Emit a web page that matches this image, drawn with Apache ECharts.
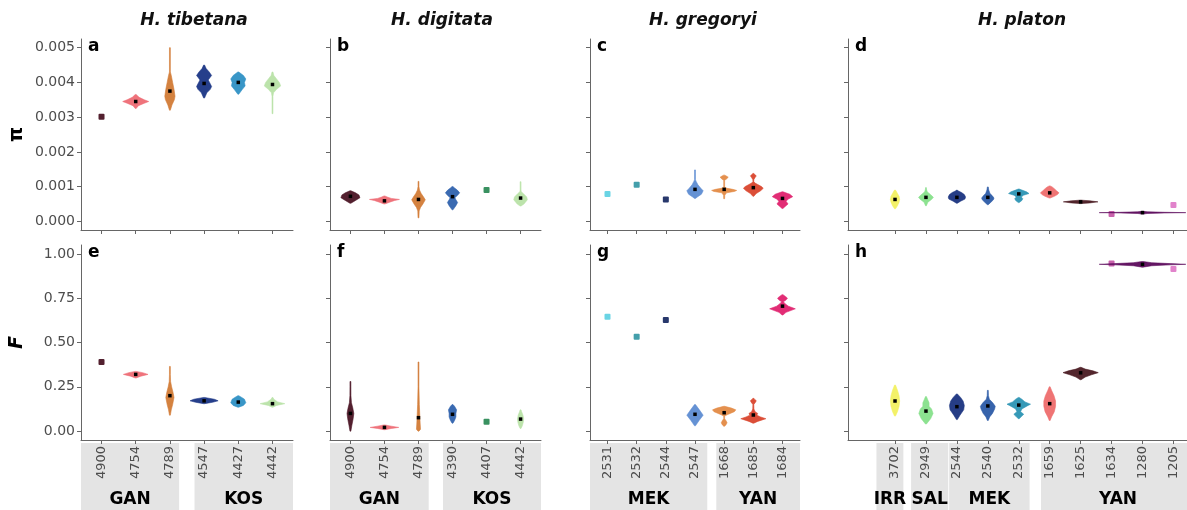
<!DOCTYPE html>
<html><head><meta charset="utf-8">
<script src="https://cdn.jsdelivr.net/npm/echarts@6/dist/echarts.min.js"></script>
<style>html,body{margin:0;padding:0;background:#fff}#c{width:1187px;height:510px}</style>
</head><body><div id="c"></div><script>
// ---------------- data ----------------
const speciesTitles = ['H. tibetana', 'H. digitata', 'H. gregoryi', 'H. platon'];
const lettersTop = ['a', 'b', 'c', 'd'];
const lettersBottom = ['e', 'f', 'g', 'h'];
const piTicks = [0, 0.001, 0.002, 0.003, 0.004, 0.005];
const fTicks = [0, 0.25, 0.5, 0.75, 1.0];

const catsTib = ['4900', '4754', '4789', '4547', '4427', '4442'];
const catsDig = ['4900', '4754', '4789', '4390', '4407', '4442'];
const catsGre = ['2531', '2532', '2544', '2547', '1668', '1685', '1684'];
const catsPla = ['3702', '2949', '2544', '2540', '2532', '1659', '1625', '1634', '1280', '1205'];

// group strips: [label, from, to] in category-index units
const groupsTib = [['GAN', -0.6, 2.27], ['KOS', 2.72, 5.6]];
const groupsDig = [['GAN', -0.6, 2.3], ['KOS', 2.72, 5.6]];
const groupsGre = [['MEK', -0.6, 3.42], ['YAN', 3.73, 6.6]];
const groupsPla = [['IRR', -0.6, 0.27], ['SAL', 0.52, 1.72], ['MEK', 1.75, 4.35], ['YAN', 4.72, 9.7]];

const colorsTib = ['#4a1424', '#ee6b74', '#d27b36', '#1a3585', '#2e90c4', '#b8e2a6'];
const colorsDig = ['#4a1424', '#ee6b74', '#d27b36', '#2f62ad', '#2e8b57', '#b8e2a6'];
const colorsGre = ['#62d2e3', '#3a9aa6', '#1c2d64', '#5d8cd2', '#e38a45', '#d9452d', '#e0226e'];
const colorsPla = ['#f2f060', '#86e08a', '#1a3380', '#2c5ba6', '#2b93b3', '#ee6d6d', '#4a1a22', '#c65aa8', '#5c0b5c', '#df7cc8'];

// nucleotide diversity (pi): medians and violin outlines [value, relative half-width]
const piTibMedian = [0.00301, 0.00345, 0.00375, 0.00397, 0.00400, 0.00394];
const piTibShape = [
  [],
  [[0.00325,0],[0.00333,0.08],[0.0034,0.25],[0.00345,0.38],[0.0035,0.25],[0.00357,0.1],[0.00365,0]],
  [[0.0032,0],[0.00335,0.06],[0.0035,0.13],[0.0036,0.15],[0.0038,0.12],[0.004,0.08],[0.0042,0.04],[0.0043,0.01],[0.0045,0.004],[0.005,0]],
  [[0.00355,0],[0.0037,0.08],[0.0038,0.18],[0.00388,0.22],[0.004,0.16],[0.00407,0.12],[0.00415,0.18],[0.0042,0.22],[0.0043,0.15],[0.0044,0.06],[0.0045,0]],
  [[0.00366,0],[0.0038,0.12],[0.0039,0.2],[0.004,0.18],[0.0041,0.22],[0.0042,0.15],[0.0043,0]],
  [[0.0031,0],[0.0036,0.01],[0.0037,0.03],[0.0038,0.12],[0.0039,0.24],[0.004,0.2],[0.0041,0.12],[0.0042,0.04],[0.0043,0]]
];
const piDigMedian = [0.00072, 0.00059, 0.00063, 0.00071, 0.0009, 0.00067];
const piDigShape = [
  [[0.00052,0],[0.0006,0.15],[0.00068,0.28],[0.00076,0.25],[0.00082,0.15],[0.00088,0]],
  [[0.0005,0],[0.00055,0.15],[0.0006,0.3],[0.00063,0.44],[0.00066,0.2],[0.0007,0.08],[0.00073,0]],
  [[0.0001,0],[0.0003,0.02],[0.0004,0.06],[0.0005,0.13],[0.00062,0.2],[0.0007,0.15],[0.0008,0.08],[0.0009,0.03],[0.001,0.01],[0.00115,0]],
  [[0.00033,0],[0.00045,0.1],[0.00054,0.15],[0.00062,0.1],[0.00068,0.07],[0.00075,0.15],[0.00082,0.21],[0.0009,0.14],[0.00097,0.05],[0.001,0]],
  [],
  [[0.00044,0],[0.0005,0.1],[0.00062,0.2],[0.0007,0.18],[0.0008,0.08],[0.00085,0.02],[0.0009,0.008],[0.00114,0]]
];
const piGreMedian = [0.00079, 0.00105, 0.00063, 0.00092, 0.00092, 0.00097, 0.00066];
const piGreShape = [
  [], [], [],
  [[0.00066,0],[0.0007,0.08],[0.00078,0.22],[0.00088,0.28],[0.00095,0.2],[0.00105,0.1],[0.00115,0.04],[0.0012,0.01],[0.00148,0]],
  [[0.00065,0],[0.00075,0.02],[0.00082,0.08],[0.00086,0.35],[0.00089,0.43],[0.00092,0.3],[0.00095,0.1],[0.00098,0],[0.00118,0],[0.00122,0.08],[0.00127,0.14],[0.00131,0.06],[0.00133,0]],
  [[0.00072,0],[0.0008,0.1],[0.00088,0.25],[0.00095,0.34],[0.001,0.28],[0.00106,0.15],[0.0011,0.06],[0.00114,0.01],[0.0012,0.005],[0.00126,0.06],[0.00131,0.1],[0.00136,0.03],[0.00138,0]],
  [[0.00037,0],[0.00045,0.12],[0.0005,0.19],[0.00058,0.12],[0.00064,0.2],[0.00071,0.35],[0.00078,0.25],[0.00085,0]]
];
const piPlaMedian = [0.00063, 0.00069, 0.00069, 0.00069, 0.00079, 0.00082, 0.00056, 0.00021, 0.00025, 0.00047];
const piPlaShape = [
  [[0.00036,0],[0.00045,0.08],[0.00055,0.13],[0.00063,0.15],[0.00072,0.13],[0.0008,0.08],[0.00088,0.03],[0.0009,0]],
  [[0.00045,0],[0.00055,0.06],[0.00063,0.18],[0.00069,0.24],[0.00076,0.16],[0.00085,0.04],[0.00093,0.01],[0.00097,0]],
  [[0.00052,0],[0.00058,0.12],[0.00064,0.26],[0.0007,0.28],[0.00077,0.24],[0.00083,0.15],[0.00088,0.03],[0.0009,0]],
  [[0.00048,0],[0.00055,0.1],[0.00062,0.18],[0.00067,0.2],[0.00074,0.14],[0.0008,0.07],[0.0009,0.03],[0.00099,0]],
  [[0.00054,0],[0.0006,0.1],[0.00065,0.13],[0.0007,0.08],[0.00075,0.15],[0.0008,0.33],[0.00085,0.25],[0.0009,0.1],[0.00093,0]],
  [[0.00067,0],[0.00072,0.15],[0.00077,0.25],[0.00082,0.3],[0.00088,0.22],[0.00094,0.15],[0.00099,0.08],[0.00102,0]],
  [[0.00051,0],[0.00053,0.3],[0.00056,0.56],[0.00059,0.3],[0.00061,0]],
  [],
  [[0.00021,0],[0.000225,0.15],[0.00024,0.7],[0.00025,1.4],[0.00026,0.7],[0.000275,0.15],[0.00029,0]],
  []
];

// inbreeding coefficient (F)
const fTibMedian = [0.39, 0.32, 0.2, 0.171, 0.164, 0.155];
const fTibShape = [
  [],
  [[0.3,0],[0.31,0.15],[0.32,0.36],[0.33,0.2],[0.337,0]],
  [[0.09,0],[0.12,0.04],[0.15,0.08],[0.19,0.12],[0.22,0.09],[0.25,0.05],[0.28,0.02],[0.32,0.008],[0.365,0]],
  [[0.155,0],[0.163,0.25],[0.171,0.41],[0.18,0.3],[0.19,0]],
  [[0.135,0],[0.145,0.15],[0.16,0.22],[0.17,0.2],[0.18,0.18],[0.19,0.1],[0.2,0]],
  [[0.135,0],[0.145,0.12],[0.155,0.36],[0.165,0.15],[0.18,0.04],[0.19,0]]
];
const fDigMedian = [0.1, 0.021, 0.076, 0.095, 0.053, 0.068];
const fDigShape = [
  [[0.0,0],[0.03,0.04],[0.07,0.08],[0.1,0.1],[0.13,0.07],[0.16,0.03],[0.2,0.015],[0.25,0.008],[0.28,0]],
  [[0.008,0],[0.015,0.2],[0.021,0.42],[0.028,0.2],[0.035,0]],
  [[0.0,0],[0.01,0.06],[0.04,0.05],[0.08,0.04],[0.15,0.025],[0.25,0.012],[0.35,0.005],[0.39,0]],
  [[0.045,0],[0.06,0.06],[0.08,0.1],[0.1,0.1],[0.12,0.12],[0.14,0.06],[0.15,0]],
  [],
  [[0.015,0],[0.03,0.05],[0.05,0.08],[0.07,0.09],[0.09,0.07],[0.11,0.03],[0.12,0]]
];
const fGreMedian = [0.645, 0.532, 0.627, 0.095, 0.104, 0.091, 0.705];
const fGreShape = [
  [], [], [],
  [[0.03,0],[0.06,0.14],[0.09,0.28],[0.12,0.15],[0.15,0]],
  [[0.028,0],[0.035,0.06],[0.047,0.1],[0.06,0.06],[0.07,0],[0.085,0],[0.092,0.1],[0.11,0.35],[0.12,0.4],[0.13,0.25],[0.14,0]],
  [[0.045,0],[0.055,0.15],[0.07,0.43],[0.08,0.25],[0.09,0.12],[0.1,0.15],[0.11,0.06],[0.125,0.02],[0.15,0.01],[0.165,0.08],[0.172,0.1],[0.18,0.04],[0.185,0]],
  [[0.655,0],[0.67,0.12],[0.69,0.44],[0.705,0.2],[0.72,0.08],[0.73,0.03],[0.74,0.12],[0.75,0.17],[0.76,0.1],[0.77,0]]
];
const fPlaMedian = [0.17, 0.113, 0.138, 0.142, 0.147, 0.155, 0.329, 0.946, 0.941, 0.914];
const fPlaShape = [
  [[0.085,0],[0.11,0.08],[0.14,0.13],[0.17,0.15],[0.2,0.13],[0.23,0.08],[0.26,0]],
  [[0.04,0],[0.07,0.15],[0.1,0.23],[0.125,0.18],[0.14,0.1],[0.16,0.1],[0.18,0.05],[0.195,0]],
  [[0.065,0],[0.09,0.1],[0.12,0.22],[0.145,0.24],[0.17,0.2],[0.19,0.12],[0.21,0]],
  [[0.06,0],[0.08,0.06],[0.1,0.15],[0.125,0.22],[0.14,0.24],[0.16,0.16],[0.18,0.05],[0.2,0.02],[0.23,0]],
  [[0.07,0],[0.085,0.1],[0.095,0.16],[0.11,0.06],[0.125,0.1],[0.145,0.3],[0.152,0.38],[0.165,0.2],[0.18,0.1],[0.19,0]],
  [[0.06,0],[0.08,0.06],[0.11,0.15],[0.14,0.19],[0.17,0.19],[0.2,0.14],[0.23,0.06],[0.25,0]],
  [[0.29,0],[0.305,0.15],[0.318,0.35],[0.33,0.57],[0.34,0.4],[0.35,0.15],[0.36,0]],
  [],
  [[0.925,0],[0.933,0.3],[0.938,0.9],[0.941,1.4],[0.945,0.9],[0.95,0.3],[0.957,0]],
  []
];

// ---------------- layout / style ----------------
const FONT = '"DejaVu Sans", "Liberation Sans", sans-serif';
const AXIS_COLOR = '#666';
const LABEL_COLOR = '#4d4d4d';
const cols = [
  { left: 81, width: 212, xmin: -0.6, cats: catsTib, groups: groupsTib, colors: colorsTib, title: 194 },
  { left: 330, width: 211, xmin: -0.6, cats: catsDig, groups: groupsDig, colors: colorsDig, title: 442 },
  { left: 590, width: 210, xmin: -0.6, cats: catsGre, groups: groupsGre, colors: colorsGre, title: 703 },
  { left: 848, width: 344, xmin: -1.52, cats: catsPla, groups: groupsPla, colors: colorsPla, title: 1022 }
];
const rows = [
  { top: 39, height: 191, min: -0.00025, max: 0.00525, ticks: piTicks, dec: 3, name: 'π', nameStyle: 'normal',
    medians: [piTibMedian, piDigMedian, piGreMedian, piPlaMedian], shapes: [piTibShape, piDigShape, piGreShape, piPlaShape], letters: lettersTop },
  { top: 245, height: 195, min: -0.05, max: 1.05, ticks: fTicks, dec: 2, name: 'F', nameStyle: 'italic',
    medians: [fTibMedian, fDigMedian, fGreMedian, fPlaMedian], shapes: [fTibShape, fDigShape, fGreShape, fPlaShape], letters: lettersBottom }
];
const STRIP_TOP = 443, STRIP_H = 67;

function violinRender(shapes, colors) {
  return function (params, api) {
    const idx = params.dataIndex;
    const x = api.value(0), med = api.value(1);
    const shape = shapes[idx];
    const band = api.size([1, 0])[0];
    const color = colors[idx];
    const children = [];
    if (!shape.length) {
      const p = api.coord([x, med]);
      children.push({ type: 'rect', shape: { x: p[0] - 3, y: p[1] - 3, width: 6, height: 6, r: 1 }, style: { fill: color, opacity: 0.95 } });
    } else {
      const right = [], left = [];
      shape.forEach(function (s) {
        const p = api.coord([x, s[0]]);
        const hw = Math.max(s[1] * band, 0.45);
        right.push([p[0] + hw, p[1]]);
        left.push([p[0] - hw, p[1]]);
      });
      children.push({ type: 'polygon', shape: { points: right.concat(left.reverse()) },
        style: { fill: color, opacity: 0.95, stroke: color, lineWidth: 0.6 } });
      const m = api.coord([x, med]);
      children.push({ type: 'rect', shape: { x: m[0] - 1.75, y: m[1] - 1.75, width: 3.5, height: 3.5 }, style: { fill: '#000' } });
    }
    return { type: 'group', children: children };
  };
}
function stripRender(groups) {
  return function (params, api) {
    const g = groups[params.dataIndex];
    const p0 = api.coord([g[1], 1]);
    const p1 = api.coord([g[2], 0]);
    const mid = api.coord([(g[1] + g[2]) / 2, 0.15]);
    return { type: 'group', children: [
      { type: 'rect', shape: { x: p0[0], y: p0[1], width: p1[0] - p0[0], height: p1[1] - p0[1] }, style: { fill: '#e4e4e4' } },
      { type: 'text', style: { text: g[0], x: mid[0], y: mid[1], align: 'center', verticalAlign: 'middle',
        font: 'bold 17px ' + FONT, fill: '#000' } }
    ] };
  };
}

const grid = [], xAxis = [], yAxis = [], series = [], graphic = [];
rows.forEach(function (row, r) {
  cols.forEach(function (col, c) {
    const gi = grid.length;
    const n = col.cats.length;
    const xmax = (c === 3) ? 9.6 : n - 0.4;
    grid.push({ left: col.left, top: row.top, width: col.width, height: row.height, outerBoundsMode: 'none' });
    const idxs = col.cats.map(function (_, i) { return i; });
    xAxis.push({ type: 'value', gridIndex: gi, min: col.xmin, max: xmax, z: 10,
      axisLine: { show: true, onZero: false, lineStyle: { color: AXIS_COLOR, width: 1 } },
      axisTick: { show: true, length: 4, customValues: idxs, lineStyle: { color: AXIS_COLOR } },
      axisLabel: { show: r === 1, customValues: idxs, rotate: 90, margin: 6, fontSize: 13, color: LABEL_COLOR, fontFamily: FONT,
        formatter: function (v) { return col.cats[Math.round(v)]; } },
      splitLine: { show: false } });
    yAxis.push({ type: 'value', gridIndex: gi, min: row.min, max: row.max,
      name: c === 0 ? row.name : '', nameLocation: 'middle', nameGap: 54, nameRotate: 90,
      nameTextStyle: { fontSize: 19, fontWeight: 'bold', fontStyle: row.nameStyle, color: '#000', fontFamily: FONT },
      axisLine: { show: true, onZero: false, lineStyle: { color: AXIS_COLOR, width: 1 } },
      axisTick: { show: true, length: 4, customValues: row.ticks, lineStyle: { color: AXIS_COLOR } },
      axisLabel: { show: c === 0, customValues: row.ticks, margin: 6, fontSize: 14, color: LABEL_COLOR, fontFamily: FONT,
        formatter: function (v) { return v.toFixed(row.dec); } },
      splitLine: { show: false } });
    series.push({ type: 'custom', xAxisIndex: gi, yAxisIndex: gi, clip: false, z: 3,
      renderItem: violinRender(row.shapes[c], col.colors),
      encode: { x: 0, y: 1 },
      data: row.medians[c].map(function (v, i) { return [i, v]; }) });
    graphic.push({ type: 'text', left: col.left + 7, top: row.top - 1,
      style: { text: row.letters[c], font: 'bold 17px ' + FONT, fill: '#000' } });
  });
});
// strip grids
cols.forEach(function (col, c) {
  const gi = grid.length;
  const n = col.cats.length;
  const xmax = (c === 3) ? 9.6 : n - 0.4;
  grid.push({ left: col.left, top: STRIP_TOP, width: col.width, height: STRIP_H, outerBoundsMode: 'none' });
  xAxis.push({ type: 'value', gridIndex: gi, min: col.xmin, max: xmax, show: false });
  yAxis.push({ type: 'value', gridIndex: gi, min: 0, max: 1, show: false });
  series.push({ type: 'custom', xAxisIndex: gi, yAxisIndex: gi, clip: false, z: 0, silent: true,
    renderItem: stripRender(col.groups),
    encode: { x: [0, 1] },
    data: col.groups.map(function (g) { return [g[1], g[2]]; }) });
  graphic.push({ type: 'text', x: col.title, y: 21,
    style: { text: speciesTitles[c], font: 'italic bold 17px ' + FONT, fill: '#111', align: 'center', verticalAlign: 'middle' } });
});

const chart = echarts.init(document.getElementById('c'), null, { renderer: 'canvas' });
chart.setOption({
  animation: false,
  backgroundColor: '#fff',
  grid: grid, xAxis: xAxis, yAxis: yAxis, series: series, graphic: graphic
});
</script></body></html>
